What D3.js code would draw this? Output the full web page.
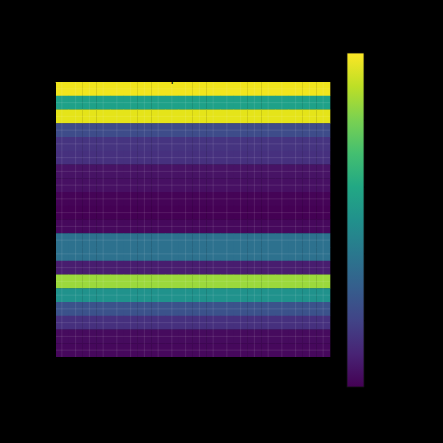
<!DOCTYPE html>
<meta charset="utf-8">
<style>
body { margin: 0; background: #000; }
.axis path, .axis line { stroke: #000; }
.axis text { fill: #000; }
</style>
<script src="https://d3js.org/d3.v7.min.js"></script>
<div id="viz"></div>
<script>
// one value per row (top to bottom), every column of a row is almost the same
var rowValues = [0.98, 0.57, 0.96, 0.23, 0.15, 0.14, 0.05, 0.04, 0.01, 0.00,
                 0.02, 0.37, 0.37, 0.08, 0.85, 0.51, 0.25, 0.14, 0.03, 0.02];
var colLabels = d3.range(20);
var rowLabels = d3.range(20);
var cbTicks = [0, 0.2, 0.4, 0.6, 0.8, 1.0];

var W = 443, H = 443;
var plotLeft = 55, plotTop = 82, size = 275;

var svg = d3.select('#viz').append('svg')
    .attr('width', W).attr('height', H)
    .style('background', '#000');

var x = d3.scaleBand().domain(colLabels).range([plotLeft, plotLeft + size]);
var y = d3.scaleBand().domain(rowLabels).range([plotTop, plotTop + size]);
var color = d3.scaleSequential(d3.interpolateViridis).domain([0, 1]);

var cells = [];
rowLabels.forEach(function(r) {
    colLabels.forEach(function(c) {
        cells.push({row: r, col: c, v: rowValues[r]});
    });
});

svg.append('g').selectAll('rect')
    .data(cells).enter().append('rect')
    .attr('x', function(d) { return x(d.col); })
    .attr('y', function(d) { return y(d.row); })
    .attr('width', x.bandwidth() + 0.3)
    .attr('height', y.bandwidth() + 0.3)
    .attr('fill', function(d) { return color(d.v); });

// grid at cell centres
var grid = svg.append('g').attr('stroke', '#fff').attr('stroke-opacity', 0.1).attr('stroke-width', 1);
grid.selectAll('.vg').data(colLabels).enter().append('line')
    .attr('x1', function(d) { return x(d) + x.bandwidth() / 2; })
    .attr('x2', function(d) { return x(d) + x.bandwidth() / 2; })
    .attr('y1', plotTop).attr('y2', plotTop + size);
grid.selectAll('.hg').data(rowLabels).enter().append('line')
    .attr('y1', function(d) { return y(d) + y.bandwidth() / 2; })
    .attr('y2', function(d) { return y(d) + y.bandwidth() / 2; })
    .attr('x1', plotLeft).attr('x2', plotLeft + size);

// axes, drawn in black on the black page
svg.append('g').attr('class', 'axis')
    .attr('transform', 'translate(0,' + (plotTop + size) + ')')
    .call(d3.axisBottom(x).tickValues(d3.range(0, 20, 2)).tickSize(3.5));
svg.append('g').attr('class', 'axis')
    .attr('transform', 'translate(' + plotLeft + ',0)')
    .call(d3.axisLeft(y).tickValues(d3.range(0, 20, 2)).tickSize(3.5));

svg.append('text')
    .attr('x', plotLeft + size / 2).attr('y', plotTop - 1)
    .attr('text-anchor', 'middle')
    .attr('font-family', 'DejaVu Sans').attr('font-size', 12)
    .attr('fill', '#000')
    .text('Heatmap of row values');

// colorbar
var cbX = 347, cbW = 17, cbTop = 53, cbBot = 387;
var defs = svg.append('defs');
var grad = defs.append('linearGradient').attr('id', 'cbg')
    .attr('x1', 0).attr('y1', 1).attr('x2', 0).attr('y2', 0);
d3.range(0, 1.01, 0.1).forEach(function(t) {
    grad.append('stop').attr('offset', t).attr('stop-color', color(t));
});
svg.append('rect')
    .attr('x', cbX).attr('y', cbTop)
    .attr('width', cbW).attr('height', cbBot - cbTop)
    .attr('fill', 'url(#cbg)')
    .attr('stroke', '#111').attr('stroke-width', 0.8);

var cbScale = d3.scaleLinear().domain([0, 1]).range([cbBot, cbTop]);
svg.append('g').attr('class', 'axis')
    .attr('transform', 'translate(' + (cbX + cbW) + ',0)')
    .call(d3.axisRight(cbScale).tickValues(cbTicks).tickSize(3.5))
    .select('.domain').remove();
</script>
